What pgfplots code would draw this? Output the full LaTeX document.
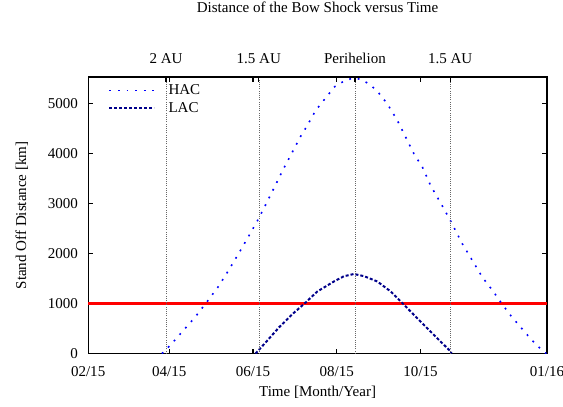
\documentclass[border=0pt]{standalone}
\usepackage{fontspec}
\setmainfont{Liberation Serif}
\usepackage{pgfplots}
\pgfplotsset{compat=1.18}
\definecolor{hac}{RGB}{0,0,255}
\definecolor{lac}{RGB}{0,0,139}
\definecolor{limitred}{RGB}{255,0,0}
\begin{document}
\begin{tikzpicture}[font=\fontsize{15}{18}\selectfont]
\begin{axis}[
  scale only axis, width=458pt, height=276pt,
  xmin=0, xmax=334, ymin=0, ymax=5520,
  axis line style={line width=1.3pt},
  tick style={line width=1.2pt, black},
  major tick length=5pt,
  tick align=inside,
  /pgf/number format/assume math mode=true,
  /pgf/number format/1000 sep={},
  xtick={0,59,120,181,242,334},
  xticklabels={02/15,04/15,06/15,08/15,10/15,01/16},
  ytick={0,1000,2000,3000,4000,5000},
  yticklabel style={anchor=east, inner sep=0pt, xshift=-10pt},
  xticklabel style={anchor=base, inner sep=0pt, yshift=-22.7pt},
  xlabel={Time [Month/Year]},
  ylabel={Stand Off Distance [km]},
  xlabel style={at={(axis description cs:0.5,0)}, anchor=base, inner sep=0pt, yshift=-43pt},
  ylabel style={at={(axis description cs:-0.1354,0.5)}, anchor=base, inner sep=0pt},
  title={Distance of the Bow Shock versus Time},
  title style={at={(axis description cs:0.5,1)}, anchor=base, inner sep=0pt, yshift=58.7pt},
  legend image code/.code={\draw[#1] (0pt,0pt) -- (45pt,0pt);},
  legend style={at={(axis description cs:0.0437,0.978)}, anchor=north west, draw=none, fill=white,
    inner sep=0pt, row sep=4pt, column sep=12pt,
    nodes={inner sep=1pt, text height=10pt, text depth=2pt}},
  legend cell align=left,
]
\addplot[forget plot, draw=limitred, line width=2.2pt] table {
x y
0 1000
100 1000
200 1000
334 1000
};
\addplot[color=hac, line width=1.6pt, dash pattern=on 1.8pt off 6.8pt] coordinates {
(53.7,0) (59.8,167) (68.3,433) (78.0,733) (87.0,1053) (95.0,1347) (102.3,1667)
(109.6,2000) (116.9,2347) (124.2,2700) (130.3,3033) (136.4,3367) (142.4,3700)
(154.6,4334) (159.5,4554) (165.6,4854) (170.4,5020) (175.3,5187) (178.9,5320)
(185.0,5420) (191.1,5487) (194.2,5500) (198.4,5474) (204.4,5387) (210.5,5240)
(217.8,4987) (225.1,4654) (231.2,4320) (237.2,3987) (243.4,3720) (249.4,3350)
(259.1,2887) (264.0,2640) (272.5,2187) (279.8,1854) (287.1,1520) (294.4,1260)
(300.5,1020) (307.8,754) (315.1,520) (322.4,287) (330.9,54) (333.5,0)
};
\addlegendentry{HAC}
\addplot[color=lac, line width=2pt, dash pattern=on 3pt off 2pt] coordinates {
(121.8,0) (129.1,220) (138.8,520) (148.6,787) (158.3,1020) (166.8,1240)
(178.9,1440) (186.2,1545) (193.5,1590) (201.0,1545) (210.5,1440) (220.3,1240)
(230.0,973) (243.4,600) (253.1,334) (264.0,40) (264.5,0)
};
\addlegendentry{LAC}
\end{axis}
\begin{axis}[
  scale only axis, width=458pt, height=276pt,
  xmin=0, xmax=334, ymin=0, ymax=5520,
  axis x line*=top, axis y line=none,
  axis line style={line width=1.3pt},
  tick style={line width=1.2pt, black},
  major tick length=5pt,
  tick align=inside,
  xtick={56.7,124.2,194.2,263.5},
  xticklabels={2 AU,1.5 AU,Perihelion,1.5 AU},
  xticklabel style={anchor=base, inner sep=0pt, yshift=13.7pt},
  xmajorgrids,
  major grid style={draw=black!60, line width=0.45pt, dash pattern=on 0.8pt off 1.4pt},
]
\end{axis}
\pgfresetboundingbox
\path[use as bounding box] ([shift={(-88pt,-53pt)}]current axis.south west) rectangle ([shift={(16pt,77pt)}]current axis.north east);
\end{tikzpicture}
\end{document}
